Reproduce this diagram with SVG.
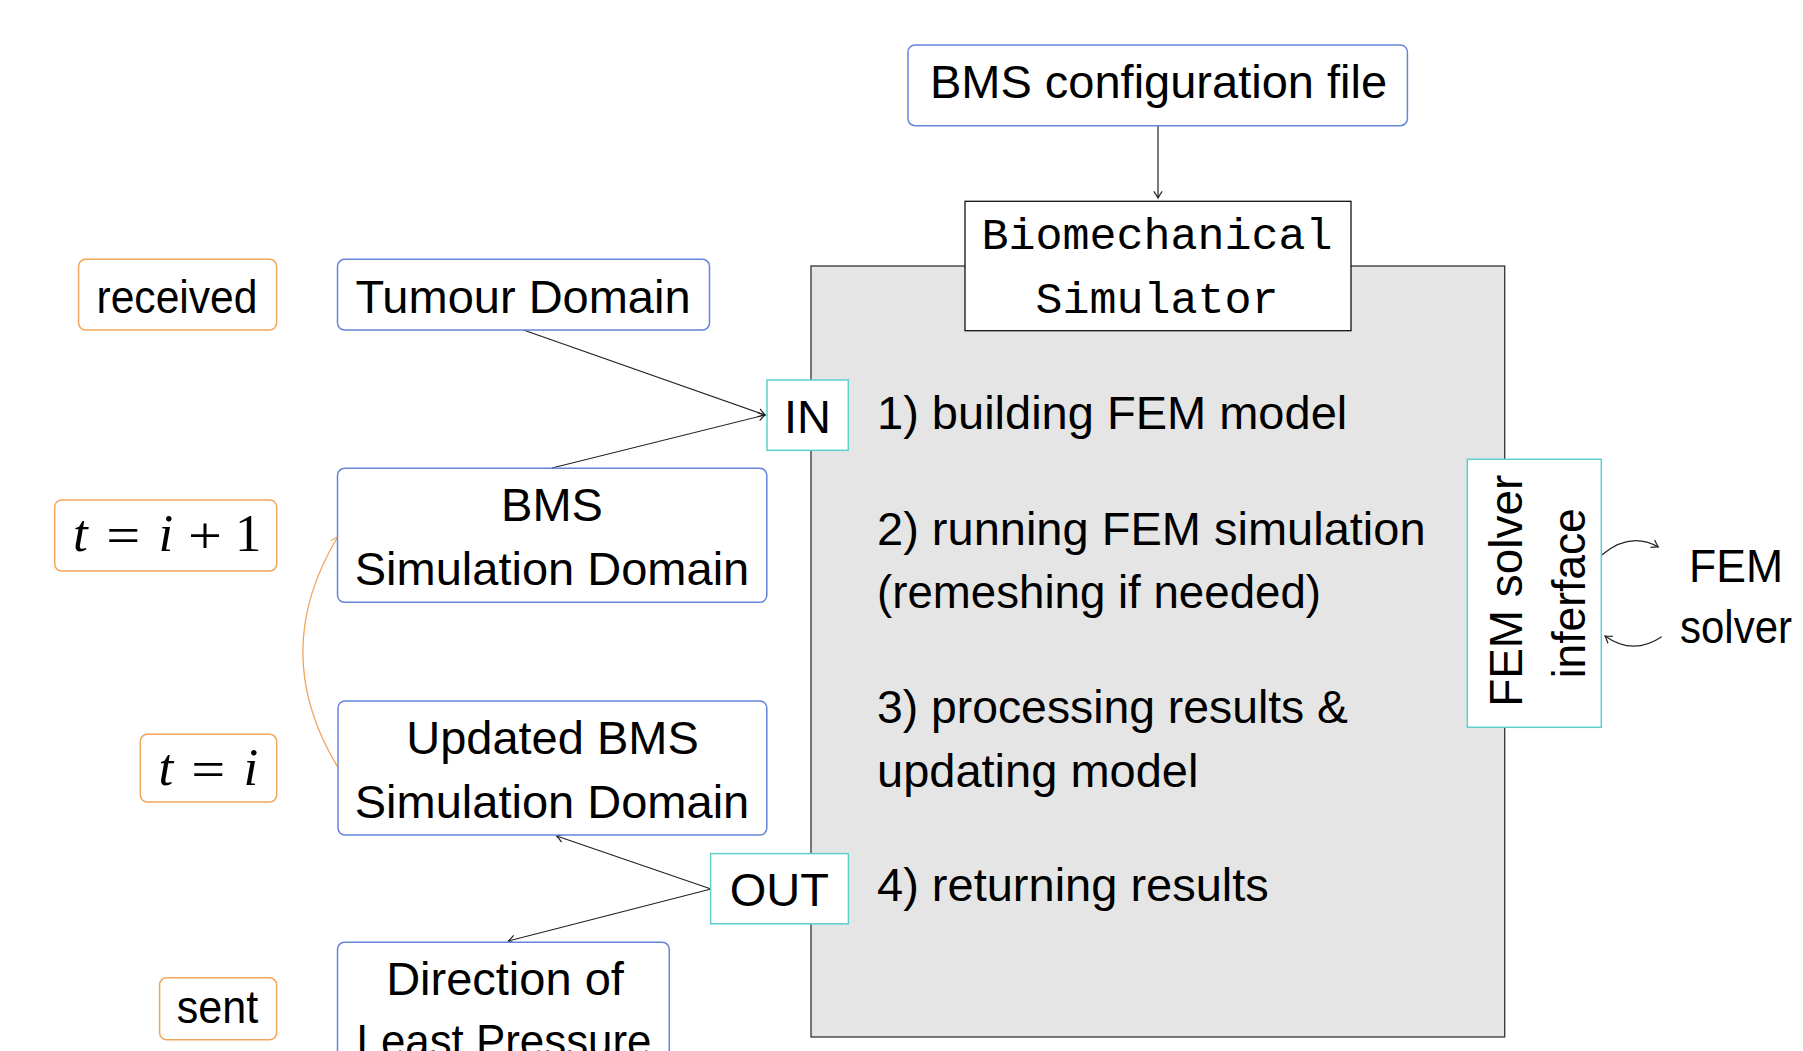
<svg xmlns="http://www.w3.org/2000/svg" width="1803" height="1051" viewBox="0 0 1803 1051">
<style>
.blue{fill:#fff;stroke:#6385da;stroke-width:1.5}
.orange{fill:#fff;stroke:#f2a55c;stroke-width:1.5}
.cyan{fill:#fff;stroke:#5ed0cc;stroke-width:1.5}
.t{font-family:"Liberation Sans",Arial,sans-serif;font-size:47px;fill:#000}
.c{text-anchor:middle}
.mono{font-family:"Liberation Mono","Courier New",monospace;font-size:45px;fill:#000;text-anchor:middle}
.m{font-family:"Liberation Serif","Times New Roman",serif;font-size:53px;fill:#000;text-anchor:middle}
.mi{font-style:italic}
.conn{fill:none;stroke:#222;stroke-width:1.2}
</style>
<defs>
<marker id="ah" markerUnits="userSpaceOnUse" markerWidth="12" markerHeight="12" viewBox="-7 -5 9 10" refX="0" refY="0" orient="auto">
<path d="M-5.5,-3.5 Q-2,-1 0,0 Q-2,1 -5.5,3.5" fill="none" stroke="#222" stroke-width="1"/>
</marker>
<marker id="aho" markerUnits="userSpaceOnUse" markerWidth="12" markerHeight="12" viewBox="-7 -5 9 10" refX="0" refY="0" orient="auto">
<path d="M-5.5,-3.5 Q-2,-1 0,0 Q-2,1 -5.5,3.5" fill="none" stroke="#f2a55c" stroke-width="1"/>
</marker>
</defs>
<rect width="1803" height="1051" fill="#fff"/>

<g id="simulator-frame">
<rect x="811" y="266" width="693.7" height="771" fill="#e5e5e5" stroke="#333" stroke-width="1.3"/>
<text class="t" x="877" y="429.3">1) building FEM model</text>
<text class="t" x="877" y="545">2) running FEM simulation</text>
<text class="t" x="877" y="608.3" textLength="444" lengthAdjust="spacingAndGlyphs">(remeshing if needed)</text>
<text class="t" x="877" y="723.3" textLength="471" lengthAdjust="spacingAndGlyphs">3) processing results &amp;</text>
<text class="t" x="877" y="786.7">updating model</text>
<text class="t" x="877" y="900.7">4) returning results</text>
</g>

<g id="connectors">
<path class="conn" d="M1158,126 L1158,198" marker-end="url(#ah)"/>
<path class="conn" d="M523.5,330 L765,415" marker-end="url(#ah)"/>
<path class="conn" d="M552,468 L765,415" marker-end="url(#ah)"/>
<path class="conn" d="M711,889 L556.7,836" marker-end="url(#ah)"/>
<path class="conn" d="M711,889 L508.3,941" marker-end="url(#ah)"/>
<path d="M337.7,767 Q268,652 337.7,537" fill="none" stroke="#f2a55c" stroke-width="1.3" marker-end="url(#aho)"/>
<path class="conn" d="M1601.7,555 Q1630,531 1658.3,547" marker-end="url(#ah)"/>
<path class="conn" d="M1661.7,636.7 Q1633,656 1605,636" marker-end="url(#ah)"/>
</g>

<g id="config">
<rect class="blue" x="908" y="45" width="499.4" height="80.7" rx="7"/>
<text class="t c" x="1158.5" y="98.3">BMS configuration file</text>
</g>

<g id="biomechanical-simulator">
<rect x="965" y="201.3" width="386" height="129.4" fill="#fff" stroke="#111" stroke-width="1.3"/>
<text class="mono" x="1157" y="249.3">Biomechanical</text>
<text class="mono" x="1157" y="313.3">Simulator</text>
</g>

<g id="received">
<rect class="orange" x="78.6" y="259.3" width="198" height="70.7" rx="7"/>
<text class="t c" x="177" y="313.3" textLength="161" lengthAdjust="spacingAndGlyphs">received</text>
</g>

<g id="tumour-domain">
<rect class="blue" x="337.5" y="259.3" width="372" height="70.7" rx="7"/>
<text class="t c" x="523" y="313.3">Tumour Domain</text>
</g>

<g id="in">
<rect class="cyan" x="767" y="380" width="81.3" height="70.3"/>
<text class="t c" x="807.5" y="433.3">IN</text>
</g>

<g id="t-next">
<rect class="orange" x="54.7" y="500" width="222" height="71" rx="7"/>
<text class="m mi" x="80.3" y="551">t</text>
<text class="m" x="123.3" y="553" textLength="34" lengthAdjust="spacingAndGlyphs">=</text>
<text class="m mi" x="165.8" y="551">i</text>
<text class="m" x="205" y="553" textLength="34" lengthAdjust="spacingAndGlyphs">+</text>
<text class="m" x="248.2" y="551">1</text>
</g>

<g id="bms-domain">
<rect class="blue" x="337.5" y="468.3" width="429.3" height="134" rx="7"/>
<text class="t c" x="552" y="520.5">BMS</text>
<text class="t c" x="552" y="585.4">Simulation Domain</text>
</g>

<g id="t-now">
<rect class="orange" x="140.3" y="734.3" width="136.4" height="67.7" rx="7"/>
<text class="m mi" x="165.8" y="785">t</text>
<text class="m" x="208.3" y="787" textLength="34" lengthAdjust="spacingAndGlyphs">=</text>
<text class="m mi" x="250.8" y="785">i</text>
</g>

<g id="updated-bms-domain">
<rect class="blue" x="338" y="701" width="428.8" height="134" rx="7"/>
<text class="t c" x="552.5" y="753.5">Updated BMS</text>
<text class="t c" x="552" y="818.2">Simulation Domain</text>
</g>

<g id="out">
<rect class="cyan" x="710.6" y="853.6" width="137.8" height="70.2"/>
<text class="t c" x="779.3" y="906">OUT</text>
</g>

<g id="sent">
<rect class="orange" x="159.6" y="977.8" width="117" height="62" rx="7"/>
<text class="t c" x="217.5" y="1022.9" textLength="81.5" lengthAdjust="spacingAndGlyphs">sent</text>
</g>

<g id="direction">
<rect class="blue" x="337.5" y="942.3" width="331.8" height="140" rx="7"/>
<text class="t c" x="505" y="995">Direction of</text>
<text class="t c" x="504" y="1057" textLength="295" lengthAdjust="spacingAndGlyphs">Least Pressure</text>
</g>

<g id="fem-solver-interface">
<rect class="cyan" x="1467.3" y="459.3" width="134" height="268"/>
<text class="t c" font-size="50" transform="translate(1521.7,590.8) rotate(-90)" textLength="232" lengthAdjust="spacingAndGlyphs">FEM solver</text>
<text class="t c" font-size="50" transform="translate(1585,593.3) rotate(-90)" textLength="170" lengthAdjust="spacingAndGlyphs">inferface</text>
</g>

<g id="fem-solver">
<text class="t c" x="1736" y="581.7" textLength="94" lengthAdjust="spacingAndGlyphs">FEM</text>
<text class="t c" x="1736" y="643.3" textLength="112" lengthAdjust="spacingAndGlyphs">solver</text>
</g>
</svg>
